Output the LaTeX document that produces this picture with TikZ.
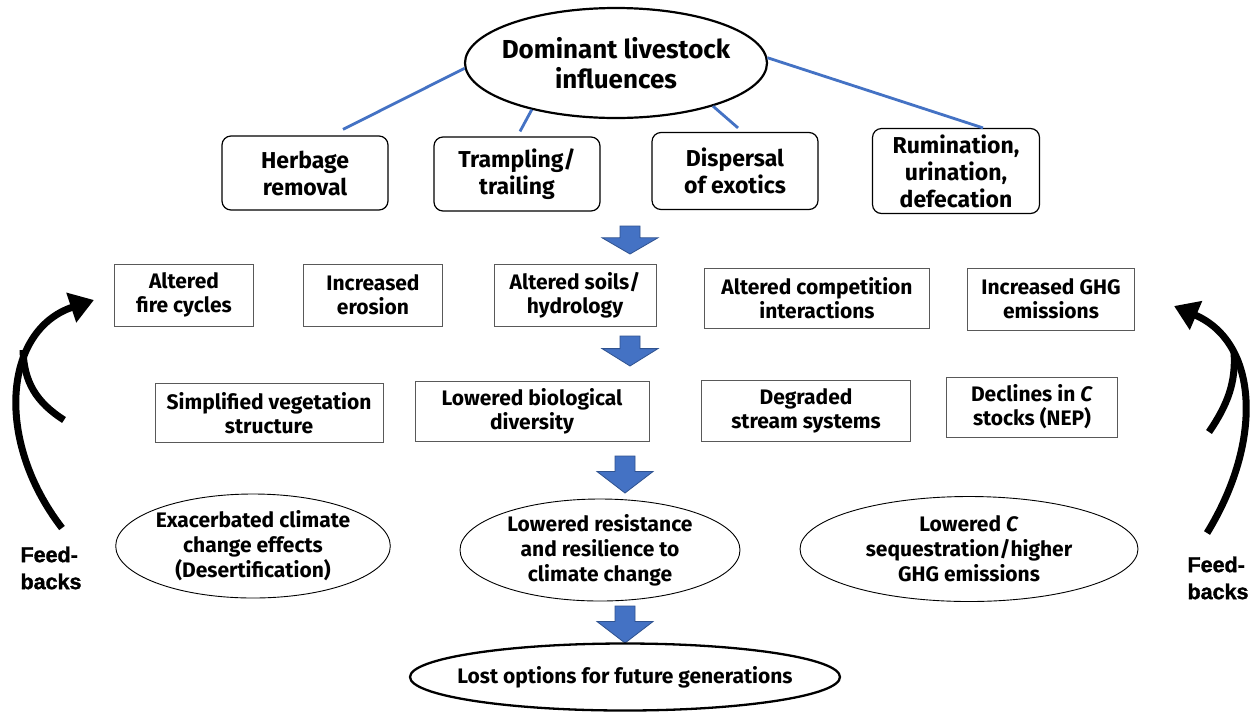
\documentclass[tikz,border=0pt]{standalone}
\usepackage{fontspec}
\setmainfont{Fira Sans}
\newfontfamily\arialbold{Liberation Sans}[UprightFont={* Bold}, FakeBold=1.5]
\usetikzlibrary{arrows.meta,calc,shapes.geometric}
\definecolor{linkblue}{HTML}{4472C4}
\definecolor{arrowedge}{HTML}{2F528F}
\definecolor{boxgray}{HTML}{595959}
\newcommand{\blockdown}[4]{% name, x, ytop, ybottom
  \path[fill=linkblue,draw=arrowedge,line width=0.8] 
    (#2-10,#3) -- (#2+10,#3) -- (#2+10,{#3+0.42*(#4-#3)}) -- (#2+28,{#3+0.42*(#4-#3)})
    -- (#2,#4) coordinate (#1) -- (#2-28,{#3+0.42*(#4-#3)}) -- (#2-10,{#3+0.42*(#4-#3)}) -- cycle;}
\tikzset{
  x=1pt, y=-1pt,
  topell/.style={ellipse, draw, line width=2.2, minimum width=302, minimum height=110, inner xsep=-8, inner ysep=0, align=center, font=\bfseries\fontsize{26}{30}\selectfont},
  rbox/.style={draw, rounded corners=9, line width=1.2, align=center, inner sep=0, font=\bfseries\fontsize{23}{27}\selectfont},
  sbox/.style={draw=boxgray, line width=0.9, align=center, inner sep=0, font=\bfseries\fontsize{21}{24}\selectfont},
  oval/.style={ellipse, draw, line width=0.9, inner sep=0, align=center, font=\bfseries\fontsize{21}{25}\selectfont},
  link/.style={draw=linkblue, line width=2.8},
  fb/.style={line width=7, line cap=butt},
  fbtext/.style={align=left, font=\arialbold\fontsize{21.5}{27}\selectfont},
}
\begin{document}
\begin{tikzpicture}
\useasboundingbox[fill=white] (0,0) rectangle (1257,713);

% top
\node[topell] (top) at (616,63) {Dominant livestock\\influences};

% row 1
\node[rbox, minimum width=166, minimum height=74] (herb) at (305,173) {Herbage\\removal};
\node[rbox, minimum width=166, minimum height=74] (tramp) at (517,174) {Trampling/\\trailing};
\node[rbox, minimum width=166, minimum height=77] (disp) at (735,171) {Dispersal\\of exotics};
\node[rbox, minimum width=167, minimum height=85] (rum) at (956,171) {Rumination,\\urination,\\defecation};

\draw[link] (top.182) -- ($(herb.north)+(38,-6)$);
\draw[link] (top.209) -- ($(tramp.north)+(3,-5)$);
\draw[link] (top.336) -- ($(disp.north)+(3,-4)$);
\draw[link] (top.2) -- ($(rum.north)+(27,0)$);

\blockdown{a1}{630}{226}{254}

% row 2
\node[sbox, minimum width=139, minimum height=62] (fire) at (184,295) {Altered\\fire cycles};
\node[sbox, minimum width=139, minimum height=62] (eros) at (373,295) {Increased\\erosion};
\node[sbox, minimum width=162, minimum height=62] (soil) at (575,295) {Altered soils/\\hydrology};
\node[sbox, minimum width=225, minimum height=60] (comp) at (817,298) {Altered competition\\interactions};
\node[sbox, minimum width=167, minimum height=62] (ghg) at (1051,299) {Increased GHG\\emissions};

\blockdown{a2}{630}{336}{366}

% row 3
\node[sbox, minimum width=228, minimum height=59] (veg) at (269,413) {Simplified vegetation\\structure};
\node[sbox, minimum width=234, minimum height=60] (div) at (532,411) {Lowered biological\\diversity};
\node[sbox, minimum width=209, minimum height=61] (strm) at (806,411) {Degraded\\stream systems};
\node[sbox, minimum width=171, minimum height=60] (cst) at (1032,407) {Declines in \textit{C}\\stocks (NEP)};

\blockdown{a3}{625}{456}{493}

% row 4
\node[oval, minimum width=272, minimum height=104] (exac) at (253,546) {Exacerbated climate\\change effects\\(Desertification)};
\node[oval, minimum width=280, minimum height=102] (resil) at (600,550) {Lowered resistance\\and resilience to\\climate change};
\node[oval, minimum width=338, minimum height=105] (lowc) at (969,549) {Lowered \textit{C}\\sequestration/higher\\GHG emissions};

\blockdown{a4}{625}{606}{643}

% bottom
\node[oval, line width=2.3, inner xsep=-16, inner ysep=0, minimum width=430, minimum height=67] (lost) at (625,677) {Lost options for future generations};

% feedbacks
\coordinate (lt) at (94,300);
\coordinate (rt) at (1174,306);
\draw[fb, -{Triangle[length=24,width=30]}] (62,528) .. controls (-6,440) and (4,330) .. (lt);
\draw[fb] (64,420) .. controls (36,402) and (24,382) .. (23,350);
\draw[fb, -{Triangle[length=24,width=30]}] (1207,533) .. controls (1264,440) and (1258,342) .. (rt);
\draw[fb] (1209,432) .. controls (1228,404) and (1236,382) .. (1234,352);

\node[fbtext, anchor=north west] (fbl) at (17,543) {Feed-\\backs};
\node[fbtext, anchor=north west] (fbr) at (1184,553) {Feed-\\backs};
\end{tikzpicture}
\end{document}
